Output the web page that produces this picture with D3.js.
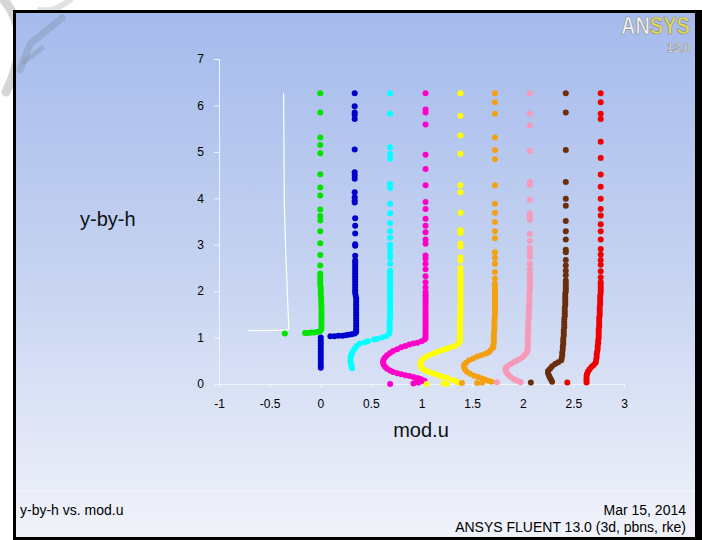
<!DOCTYPE html>
<html><head><meta charset="utf-8">
<script src="https://cdn.jsdelivr.net/npm/d3@7"></script>
<style>html,body{margin:0;padding:0;background:#fff;} svg{display:block;font-family:"Liberation Sans",Arial,sans-serif;}</style>
</head><body><svg id="c" width="702" height="540"></svg>
<script>
// ---------- data ----------
const xTicks = [-1, -0.5, 0, 0.5, 1, 1.5, 2, 2.5, 3];
const yTicks = [0, 1, 2, 3, 4, 5, 6, 7];
const xTitle = "mod.u";
const yTitle = "y-by-h";
const footLeft = "y-by-h vs. mod.u";
const footDate = "Mar 15, 2014";
const footInfo = "ANSYS FLUENT 13.0 (3d, pbns, rke)";

const whiteLine = [[-0.71,1.15],[-0.45,1.155],[-0.33,1.16],[-0.31,1.19],[-0.32,1.7],[-0.34,2.8],[-0.355,3.88],[-0.362,6.26]];

const green = [[0,6.26],[0,5.85],[0,5.31],[0,5.15],[0,4.97],[0,4.52],[0,4.23],[0,4.06],[0,3.76],[0,3.62],[0,3.52],[0,3.29],[0,3.03],[0,2.78],[0,2.55],
[0,2.38],[0,2.32],[0,2.26],[0,2.20],[0,2.14],[0.005,2.08],[0.005,2.02],[0.005,1.96],[0.005,1.90],[0.01,1.84],[0.01,1.78],[0.01,1.72],[0.012,1.66],[0.012,1.60],[0.012,1.54],[0.012,1.48],[0.012,1.42],[0.012,1.36],[0.012,1.30],[0.012,1.24],[0.01,1.18],
[0,1.14],[-0.03,1.12],[-0.06,1.11],[-0.09,1.11],[-0.12,1.10],[-0.15,1.10],[-0.35,1.09]];

const blue = [[0.34,6.26],[0.34,5.98],[0.34,5.85],[0.34,5.80],[0.34,5.71],[0.34,5.05],[0.34,4.56],[0.34,4.49],[0.34,4.42],[0.34,4.13],[0.34,4.02],[0.34,3.96],[0.34,3.91],[0.345,3.57],[0.345,3.41],[0.345,3.24],[0.345,3.01],[0.345,2.98],[0.345,2.76],[0.345,2.66],
[0.345,2.62],[0.345,2.56],[0.345,2.50],[0.345,2.44],[0.345,2.38],[0.345,2.32],[0.345,2.26],[0.345,2.20],[0.345,2.14],[0.345,2.08],[0.345,2.02],[0.345,1.96],[0.35,1.90],[0.355,1.84],[0.355,1.78],[0.355,1.72],[0.355,1.66],[0.355,1.60],[0.355,1.54],[0.355,1.48],[0.355,1.42],[0.355,1.36],[0.355,1.30],[0.355,1.24],[0.355,1.18],[0.355,1.12],
[0.34,1.09],[0.31,1.07],[0.28,1.06],[0.25,1.05],[0.22,1.04],[0.18,1.04],[0.14,1.03],[0.10,1.03],
[0.005,1.00],[0.005,0.94],[0.005,0.88],[0.005,0.82],[0.005,0.76],[0.005,0.70],[0.005,0.64],[0.005,0.58],[0.005,0.52],[0.005,0.46],[0.005,0.40],[0.005,0.35]];

const cyan = [[0.69,6.26],[0.69,5.82],[0.69,5.10],[0.69,4.96],[0.69,4.85],[0.69,4.31],[0.69,4.22],[0.69,3.88],[0.69,3.68],[0.69,3.46],[0.69,3.29],[0.69,3.15],[0.69,3.00],[0.69,2.91],[0.69,2.80],[0.69,2.72],[0.69,2.59],[0.69,2.44],
[0.69,2.40],[0.69,2.34],[0.69,2.28],[0.69,2.22],[0.69,2.16],[0.69,2.10],[0.69,2.04],[0.69,1.98],[0.69,1.92],[0.69,1.86],[0.69,1.80],[0.69,1.74],[0.69,1.68],[0.69,1.62],[0.69,1.56],[0.69,1.50],[0.69,1.44],[0.685,1.38],[0.685,1.32],[0.685,1.26],[0.685,1.20],[0.685,1.14],
[0.68,1.08],[0.65,1.03],[0.61,1.00],[0.56,0.97],[0.53,0.96],[0.47,0.92],[0.44,0.90],[0.39,0.87],[0.36,0.82],[0.34,0.76],[0.32,0.70],[0.31,0.64],[0.30,0.58],[0.30,0.52],[0.30,0.47],[0.305,0.42],[0.31,0.37],[0.315,0.34]];

const magenta = [[1.04,6.26],[1.04,5.91],[1.04,5.85],[1.04,5.59],[1.04,4.94],[1.04,4.63],[1.04,4.28],[1.04,3.92],[1.04,3.77],[1.04,3.56],[1.04,3.41],[1.04,3.27],[1.04,3.11],[1.04,3.02],[1.04,2.77],[1.04,2.70],[1.04,2.59],[1.04,2.47],[1.04,2.32],[1.04,2.19],[1.04,2.08],[1.04,1.98],
[1.04,1.93],[1.04,1.88],[1.04,1.82],[1.04,1.76],[1.04,1.70],[1.04,1.64],[1.04,1.58],[1.04,1.52],[1.04,1.46],[1.04,1.40],[1.04,1.34],[1.04,1.28],[1.04,1.22],[1.04,1.16],[1.04,1.10],[1.04,1.04],[1.04,0.99],
[1.03,0.96],[1.0,0.92],[0.96,0.89],[0.92,0.87],[0.88,0.85],[0.84,0.82],[0.80,0.79],[0.76,0.75],[0.72,0.71],[0.69,0.67],[0.66,0.62],[0.64,0.57],[0.625,0.52],[0.62,0.47],[0.625,0.42],[0.64,0.37],[0.66,0.33],[0.69,0.29],[0.72,0.26],[0.76,0.23],[0.80,0.21],[0.84,0.19],[0.88,0.17],[0.92,0.15],[0.96,0.13],[0.99,0.11],[1.01,0.08],
[0.69,0.0],[0.92,0.01],[0.95,0.05],[0.97,0.03],[1.0,0.06],[1.03,0.07]];

const yellow = [[1.385,6.26],[1.385,5.78],[1.385,5.35],[1.385,4.96],[1.385,4.28],[1.385,4.13],[1.385,3.69],[1.385,3.31],[1.385,3.25],[1.385,3.02],[1.385,2.96],[1.385,2.73],[1.385,2.66],[1.385,2.50],[1.385,2.41],
[1.385,2.36],[1.385,2.30],[1.385,2.24],[1.385,2.18],[1.385,2.12],[1.385,2.06],[1.385,2.00],[1.385,1.94],[1.385,1.88],[1.385,1.82],[1.385,1.76],[1.385,1.70],[1.385,1.64],[1.385,1.58],[1.385,1.52],[1.385,1.46],[1.38,1.40],[1.38,1.34],[1.38,1.28],[1.38,1.22],[1.38,1.16],[1.38,1.10],[1.38,1.04],[1.38,0.98],[1.38,0.92],
[1.36,0.86],[1.33,0.82],[1.29,0.79],[1.25,0.76],[1.21,0.73],[1.17,0.70],[1.13,0.67],[1.09,0.63],[1.05,0.59],[1.02,0.55],[1.0,0.50],[0.99,0.45],[0.99,0.40],[1.0,0.35],[1.03,0.30],[1.06,0.27],[1.10,0.24],[1.14,0.21],[1.18,0.18],[1.22,0.15],[1.26,0.13],
[1.31,0.08],[1.34,0.06],[1.36,0.03],[1.25,0.0],[1.22,0.01],[1.05,0.0]];

const orange = [[1.725,6.26],[1.725,6.07],[1.725,5.82],[1.725,5.31],[1.725,5.04],[1.725,4.84],[1.725,4.28],[1.725,3.88],[1.725,3.69],[1.725,3.49],[1.725,3.29],[1.725,3.14],[1.725,2.84],[1.725,2.72],[1.725,2.59],[1.725,2.41],[1.725,2.27],[1.725,2.16],
[1.725,2.11],[1.725,2.05],[1.725,1.99],[1.725,1.93],[1.725,1.87],[1.725,1.81],[1.725,1.75],[1.725,1.69],[1.725,1.63],[1.725,1.57],[1.725,1.51],[1.725,1.45],[1.72,1.39],[1.72,1.33],[1.72,1.27],[1.72,1.21],[1.72,1.15],[1.715,1.09],[1.715,1.03],[1.715,0.97],[1.715,0.91],[1.71,0.85],[1.71,0.80],
[1.70,0.77],[1.68,0.72],[1.66,0.68],[1.63,0.65],[1.59,0.62],[1.55,0.59],[1.51,0.55],[1.47,0.51],[1.44,0.46],[1.42,0.41],[1.42,0.36],[1.43,0.31],[1.45,0.26],[1.48,0.22],[1.52,0.18],[1.56,0.15],[1.60,0.12],[1.63,0.09],[1.66,0.07],
[1.40,0.02],[1.55,0.02],[1.60,0.03],[1.69,0.05]];

const pink = [[2.07,6.26],[2.07,5.82],[2.07,5.57],[2.07,5.02],[2.07,4.35],[2.07,4.29],[2.07,3.97],[2.07,3.67],[2.07,3.59],[2.07,3.54],[2.07,3.23],[2.07,3.08],[2.07,2.93],[2.07,2.84],[2.07,2.73],[2.07,2.59],[2.07,2.48],[2.07,2.37],
[2.07,2.32],[2.07,2.26],[2.07,2.20],[2.07,2.14],[2.07,2.08],[2.07,2.02],[2.065,1.96],[2.065,1.90],[2.065,1.84],[2.065,1.78],[2.065,1.72],[2.06,1.66],[2.06,1.60],[2.06,1.54],[2.06,1.48],[2.06,1.42],[2.055,1.36],[2.055,1.30],[2.055,1.24],[2.055,1.18],[2.055,1.12],[2.05,1.06],[2.05,1.00],[2.05,0.94],[2.05,0.88],[2.05,0.82],[2.05,0.76],[2.045,0.72],
[2.04,0.68],[2.02,0.63],[2.0,0.58],[1.97,0.54],[1.94,0.50],[1.91,0.47],[1.88,0.43],[1.85,0.39],[1.83,0.34],[1.83,0.29],[1.84,0.24],[1.86,0.19],[1.88,0.15],[1.91,0.11],[1.93,0.08],[1.96,0.06],[1.98,0.04],
[1.745,0.04]];

const brown = [[2.425,6.26],[2.425,5.85],[2.425,5.04],[2.425,4.35],[2.425,3.99],[2.425,3.84],[2.425,3.51],[2.425,3.29],[2.425,3.11],[2.425,2.89],[2.425,2.84],[2.425,2.67],[2.425,2.55],[2.425,2.44],[2.425,2.34],[2.425,2.23],
[2.425,2.18],[2.425,2.12],[2.425,2.06],[2.425,2.00],[2.42,1.94],[2.42,1.88],[2.42,1.82],[2.42,1.76],[2.42,1.70],[2.415,1.64],[2.415,1.58],[2.415,1.52],[2.415,1.46],[2.41,1.40],[2.41,1.34],[2.41,1.28],[2.41,1.22],[2.405,1.16],[2.405,1.10],[2.405,1.04],[2.40,0.98],[2.40,0.92],[2.40,0.86],[2.395,0.80],[2.395,0.74],[2.39,0.68],[2.39,0.62],[2.385,0.56],
[2.38,0.51],[2.35,0.47],[2.32,0.43],[2.29,0.38],[2.27,0.33],[2.25,0.28],[2.25,0.23],[2.26,0.18],[2.27,0.13],[2.28,0.09],[2.29,0.05],
[2.08,0.03]];

const red = [[2.77,6.26],[2.77,6.07],[2.77,5.82],[2.77,5.71],[2.77,5.22],[2.77,4.87],[2.77,4.51],[2.77,4.25],[2.77,3.99],[2.77,3.77],[2.77,3.63],[2.77,3.44],[2.77,3.29],[2.77,3.11],[2.77,2.91],[2.77,2.79],[2.77,2.67],[2.77,2.57],[2.77,2.43],[2.77,2.30],[2.77,2.19],
[2.77,2.14],[2.77,2.08],[2.77,2.02],[2.77,1.96],[2.765,1.90],[2.765,1.84],[2.765,1.78],[2.765,1.72],[2.76,1.66],[2.76,1.60],[2.76,1.54],[2.76,1.48],[2.755,1.42],[2.755,1.36],[2.755,1.30],[2.755,1.24],[2.75,1.18],[2.75,1.12],[2.75,1.06],[2.75,1.00],[2.745,0.94],[2.745,0.88],[2.74,0.82],[2.74,0.76],[2.735,0.70],[2.73,0.64],[2.73,0.58],[2.725,0.52],[2.72,0.46],
[2.70,0.41],[2.68,0.37],[2.66,0.32],[2.645,0.27],[2.635,0.22],[2.63,0.17],[2.63,0.12],[2.63,0.07],[2.63,0.03],
[2.44,0.03]];

const seriesData = [green, blue, cyan, magenta, yellow, orange, pink, brown, red];
const seriesColors = ["#00e400", "#0000cc", "#00ffff", "#ff00c8", "#ffff00", "#f5a012", "#f79ab9", "#6b2e0c", "#ee0000"];

// ---------- drawing ----------
const svg = d3.select("#c");
const defs = svg.append("defs");
const bg = defs.append("linearGradient").attr("id", "bg").attr("x1", 0).attr("y1", 0).attr("x2", 0).attr("y2", 1);
bg.append("stop").attr("offset", "0").attr("stop-color", "#a5bbec");
bg.append("stop").attr("offset", "0.5").attr("stop-color", "#c6d3f1");
bg.append("stop").attr("offset", "1").attr("stop-color", "#f1f3fa");

const lg = defs.append("linearGradient").attr("id", "logoFill").attr("gradientUnits", "userSpaceOnUse")
  .attr("x1", 0).attr("y1", 0).attr("x2", 69).attr("y2", 0);
lg.append("stop").attr("offset", "0").attr("stop-color", "#f2f2f2");
lg.append("stop").attr("offset", "0.44").attr("stop-color", "#f2f2f2");
lg.append("stop").attr("offset", "0.44").attr("stop-color", "#e6dc55");
lg.append("stop").attr("offset", "1").attr("stop-color", "#e6dc55");

// watermark outside frame
const wm = svg.append("g").attr("fill", "none").attr("stroke-linecap", "round");
wm.append("path").attr("d", "M4,0 C22,22 26,50 6,92").attr("stroke", "#d6d6d6").attr("stroke-width", 9);
wm.append("path").attr("d", "M70,0 C60,8 50,12 40,10").attr("stroke", "#e2e2e2").attr("stroke-width", 6);

// frame
svg.append("rect").attr("x", 13).attr("y", 10).attr("width", 689).attr("height", 530).attr("fill", "#000");
svg.append("rect").attr("x", 16).attr("y", 13).attr("width", 679).attr("height", 524).attr("fill", "url(#bg)");
svg.append("line").attr("x1", 16).attr("x2", 695).attr("y1", 491).attr("y2", 491).attr("stroke", "#f6f8fd").attr("stroke-width", 1);

// watermark strokes inside frame
const wm2 = svg.append("g").attr("fill", "none").attr("stroke", "#7f8ba3").attr("stroke-opacity", 0.35).attr("stroke-linecap", "round");
wm2.append("path").attr("d", "M62,18 L30,44 L20,70").attr("stroke-width", 7);
wm2.append("path").attr("d", "M42,48 L24,62").attr("stroke-width", 5);

// ANSYS logo
const logo = svg.append("g");
logo.append("text").attr("transform", "translate(621,34) scale(1,1.2)").attr("x", 0).attr("y", 0)
  .attr("font-size", 20).attr("font-weight", "bold")
  .attr("font-family", "Liberation Sans, Arial, sans-serif")
  .attr("fill", "url(#logoFill)").attr("stroke", "#8d8d8d").attr("stroke-width", 0.6)
  .text("ANSYS");
logo.append("text").attr("x", 667).attr("y", 52).attr("font-weight", "bold")
  .attr("font-size", 12).attr("fill", "#f4f4f4").attr("stroke", "#8a8a8a").attr("stroke-width", 0.6)
  .text("13.0");

// scales
const x = d3.scaleLinear().domain([-1, 3]).range([219, 624]);
const y = d3.scaleLinear().domain([0, 7]).range([384, 59]);

const axisColor = "#f2f5fb";
const minorX = d3.range(-1, 3.001, 0.25);
const minorY = d3.range(0, 7.001, 0.25);

const gx = svg.append("g").attr("transform", "translate(0,384)");
gx.call(d3.axisBottom(x).tickValues(minorX).tickSize(3).tickFormat(""));
gx.call(d3.axisBottom(x).tickValues(xTicks).tickSize(4).tickPadding(11).tickFormat(d => String(d)));
gx.selectAll("path,line").attr("stroke", axisColor);
gx.selectAll("text").attr("font-size", 12).attr("fill", "#000").attr("font-family", "Liberation Sans, Arial, sans-serif");

const gy = svg.append("g").attr("transform", "translate(219,0)");
gy.call(d3.axisLeft(y).tickValues(minorY).tickSize(3).tickFormat(""));
gy.call(d3.axisLeft(y).tickValues(yTicks).tickSize(5).tickPadding(10).tickFormat(d => String(d)));
gy.selectAll("path,line").attr("stroke", axisColor);
gy.selectAll("text").attr("font-size", 12).attr("fill", "#000").attr("font-family", "Liberation Sans, Arial, sans-serif");

// white line
svg.append("path").datum(whiteLine)
  .attr("d", d3.line().x(d => x(d[0])).y(d => y(d[1])))
  .attr("fill", "none").attr("stroke", "#ffffff").attr("stroke-width", 1.2);

// scatter series
seriesData.forEach((data, i) => {
  svg.append("g").selectAll("circle").data(data).join("circle")
    .attr("cx", d => x(d[0])).attr("cy", d => y(d[1])).attr("r", 3)
    .attr("fill", seriesColors[i]);
});

// titles
svg.append("text").attr("x", 80).attr("y", 226).attr("font-size", 20).attr("fill", "#111").text(yTitle);
svg.append("text").attr("x", 421).attr("y", 437).attr("text-anchor", "middle").attr("font-size", 20).attr("fill", "#111").text(xTitle);

// footer
svg.append("text").attr("x", 20).attr("y", 515).attr("font-size", 14).attr("fill", "#000").text(footLeft);
svg.append("text").attr("x", 686).attr("y", 515).attr("text-anchor", "end").attr("font-size", 14).attr("fill", "#000").text(footDate);
svg.append("text").attr("x", 686).attr("y", 532).attr("text-anchor", "end").attr("font-size", 14).attr("fill", "#000").text(footInfo);
</script>
</body></html>
